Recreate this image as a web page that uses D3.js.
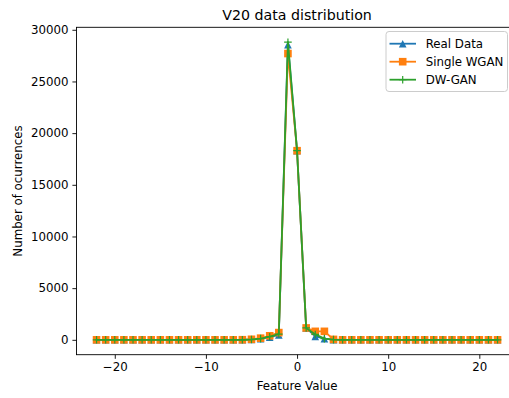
<!DOCTYPE html>
<html>
<head>
<meta charset="utf-8">
<script src="https://cdn.jsdelivr.net/npm/d3@7"></script>
<style>
  html, body { margin: 0; padding: 0; background: #fff; }
  svg { display: block; font-family: "DejaVu Sans", sans-serif; }
</style>
</head>
<body>
<svg id="chart" width="509" height="398"></svg>
<script>
// Feature values (bin centres)
const featureValues = [-22,-21,-20,-19,-18,-17,-16,-15,-14,-13,-12,-11,-10,-9,-8,-7,-6,-5,-4,-3,-2,-1,0,1,2,3,4,5,6,7,8,9,10,11,12,13,14,15,16,17,18,19,20,21,22];

// Occurrence counts per series
const realData = [0,0,0,0,0,0,0,0,0,0,0,0,0,0,0,0,0,30,100,250,480,28550,18300,1150,330,110,20,0,0,0,0,0,0,0,0,0,0,0,0,0,0,0,0,0,0];
const singleWGAN = [0,0,0,0,0,0,0,0,0,0,0,0,0,0,0,0,10,50,160,390,700,27700,18300,1150,820,820,40,0,0,0,0,0,0,0,0,0,0,0,0,0,0,0,0,0,0];
const dwGAN = [0,0,0,0,0,0,0,0,0,0,0,0,0,0,0,0,0,30,120,300,560,28800,18300,1150,520,120,20,0,0,0,0,0,0,0,0,0,0,0,0,0,0,0,0,0,0];

const xTicks = [-20, -10, 0, 10, 20];
const yTicks = [0, 5000, 10000, 15000, 20000, 25000, 30000];

const seriesList = [
  { name: "Real Data", values: realData, color: "#1f77b4", marker: "triangle" },
  { name: "Single WGAN", values: singleWGAN, color: "#ff7f0e", marker: "square" },
  { name: "DW-GAN", values: dwGAN, color: "#2ca02c", marker: "plus" }
];

const svg = d3.select("#chart");
const plot = { left: 76.5, right: 517.6, top: 27.3, bottom: 354.7 };

// matplotlib-style 5% margins around the data extent
const xMin = d3.min(featureValues), xMax = d3.max(featureValues);
const xPad = (xMax - xMin) * 0.05;
const yMaxData = d3.max(seriesList, s => d3.max(s.values));
const yPad = yMaxData * 0.05;

const x = d3.scaleLinear().domain([xMin - xPad, xMax + xPad]).range([plot.left, plot.right]);
const y = d3.scaleLinear().domain([-yPad, yMaxData + yPad]).range([plot.bottom, plot.top]);

const tickFont = "11.8px";

// Axes
const xAxis = d3.axisBottom(x).tickValues(xTicks).tickSize(4.1).tickPadding(4)
  .tickFormat(d => d < 0 ? "\u2212" + Math.abs(d) : String(d));
const gx = svg.append("g").attr("transform", `translate(0,${plot.bottom})`).call(xAxis);
gx.select(".domain").remove();
gx.selectAll("line").attr("stroke", "#000").attr("stroke-width", 0.9);
gx.selectAll("text").attr("font-size", tickFont).attr("fill", "#000").attr("font-family", "DejaVu Sans");

const yAxis = d3.axisLeft(y).tickValues(yTicks).tickSize(4.1).tickPadding(4).tickFormat(d3.format("d"));
const gy = svg.append("g").attr("transform", `translate(${plot.left},0)`).call(yAxis);
gy.select(".domain").remove();
gy.selectAll("line").attr("stroke", "#000").attr("stroke-width", 0.9);
gy.selectAll("text").attr("font-size", tickFont).attr("fill", "#000").attr("font-family", "DejaVu Sans");

// Spines
const spines = svg.append("g").attr("stroke", "#000").attr("stroke-width", 0.9).attr("fill", "none");
spines.append("rect")
  .attr("x", plot.left).attr("y", plot.top)
  .attr("width", plot.right - plot.left).attr("height", plot.bottom - plot.top);

// Marker shapes
const mk = 7.6;
function drawMarker(g, type, color, cx, cy) {
  const h = mk * 0.5;
  if (type === "triangle") {
    g.append("path")
      .attr("d", `M${cx},${cy - h}L${cx + h},${cy + h}L${cx - h},${cy + h}Z`)
      .attr("fill", color);
  } else if (type === "square") {
    g.append("rect").attr("x", cx - h).attr("y", cy - h).attr("width", mk).attr("height", mk)
      .attr("fill", color);
  } else {
    g.append("path").attr("d", `M${cx - h},${cy}H${cx + h}M${cx},${cy - h}V${cy + h}`)
      .attr("stroke", color).attr("stroke-width", 1.2).attr("fill", "none");
  }
}

const line = d3.line().x(d => x(d[0])).y(d => y(d[1]));

const marks = svg.append("g");
seriesList.forEach(s => {
  const pts = featureValues.map((v, i) => [v, s.values[i]]);
  const g = marks.append("g");
  g.append("path").datum(pts).attr("d", line)
    .attr("fill", "none").attr("stroke", s.color).attr("stroke-width", 1.8)
    .attr("stroke-linejoin", "round").attr("stroke-linecap", "square");
  pts.forEach(p => drawMarker(g, s.marker, s.color, x(p[0]), y(p[1])));
});

// Title and axis labels
const cxPlot = (plot.left + plot.right) / 2;
svg.append("text").attr("x", cxPlot).attr("y", 20).attr("text-anchor", "middle")
  .attr("font-size", "14.2px").attr("fill", "#000").text("V20 data distribution");
svg.append("text").attr("x", cxPlot).attr("y", 390).attr("text-anchor", "middle")
  .attr("font-size", tickFont).attr("fill", "#000").text("Feature Value");
svg.append("text")
  .attr("transform", `translate(22,${(plot.top + plot.bottom) / 2}) rotate(-90)`)
  .attr("text-anchor", "middle").attr("font-size", tickFont).attr("fill", "#000")
  .text("Number of ocurrences");

// Legend
const legend = svg.append("g");
legend.append("rect").attr("x", 386).attr("y", 31.5).attr("width", 121.5).attr("height", 60)
  .attr("rx", 3).attr("fill", "#fff").attr("fill-opacity", 0.8)
  .attr("stroke", "#ccc").attr("stroke-width", 1);
seriesList.forEach((s, i) => {
  const ly = 43.7 + i * 18;
  legend.append("line").attr("x1", 389.5).attr("x2", 416).attr("y1", ly).attr("y2", ly)
    .attr("stroke", s.color).attr("stroke-width", 1.8);
  drawMarker(legend, s.marker, s.color, 402.7, ly);
  legend.append("text").attr("x", 425.7).attr("y", ly).attr("dy", "0.35em")
    .attr("font-size", tickFont).attr("fill", "#000").text(s.name);
});
</script>
</body>
</html>
